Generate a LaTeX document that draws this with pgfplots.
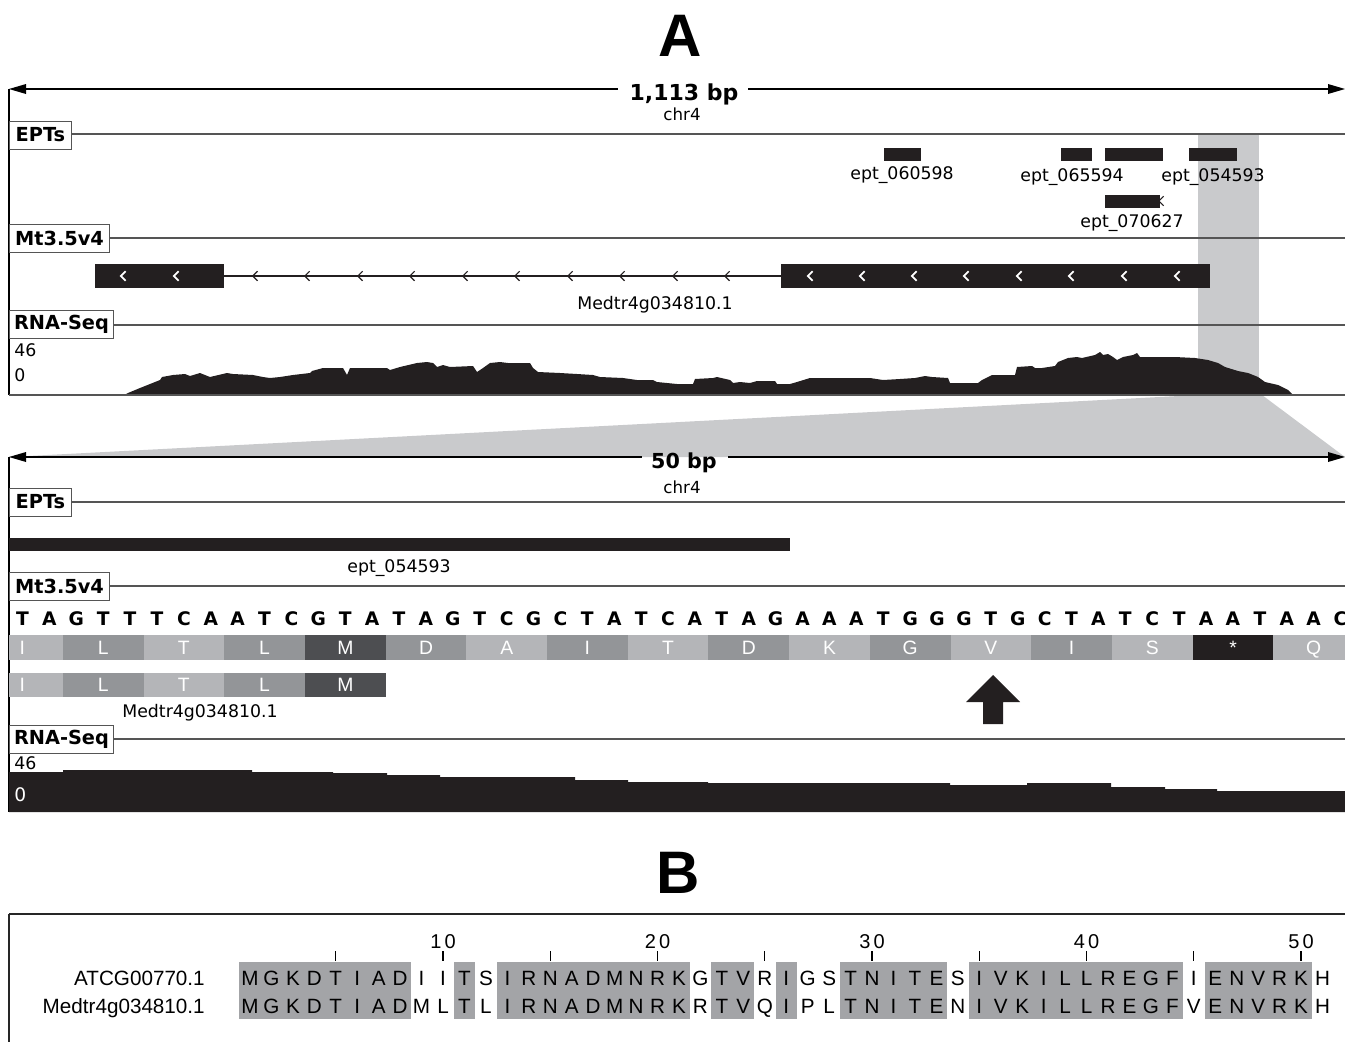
\documentclass[border=0pt]{standalone}
\usepackage{pgfplots}
\pgfplotsset{compat=1.18}
\usepackage{fontspec}
\setmainfont{DejaVu Sans}
\newfontfamily\lib{Liberation Sans}
\definecolor{lgray}{HTML}{B4B5B8}
\definecolor{mgray}{HTML}{939598}
\definecolor{dgray}{HTML}{4D4E51}
\definecolor{blk}{HTML}{231F20}
\definecolor{hl}{HTML}{C9CACC}
\definecolor{aln}{HTML}{A3A4A7}
\definecolor{trk}{HTML}{555555}
\pgfdeclareplotmark{chev}{%
 \pgfpathmoveto{\pgfqpoint{0.55\pgfplotmarksize}{\pgfplotmarksize}}%
 \pgfpathlineto{\pgfqpoint{-0.45\pgfplotmarksize}{0pt}}%
 \pgfpathlineto{\pgfqpoint{0.55\pgfplotmarksize}{-\pgfplotmarksize}}%
 \pgfusepathqstroke}
\newcommand{\rect}[5]{\addplot[fill=#5,draw=none] coordinates {(#1,#3) (#2,#3) (#2,#4) (#1,#4)} --cycle;}
\newcommand{\fs}[1]{\fontsize{#1}{#1}\selectfont}
\begin{document}
\begin{tikzpicture}
\begin{axis}[scale only axis, width=1008.75pt, height=781.5pt,
  xmin=0, xmax=1345, ymin=0, ymax=1042, y dir=reverse, hide axis, clip=false]
% ---------- Panel A, upper view ----------
\rect{1198}{1259}{134}{395}{hl}
\addplot[fill=hl,draw=none] coordinates {(9,457) (1198,395) (1262,395) (1345,457)} --cycle;
% scale arrow
\addplot[black, line width=1.1pt] coordinates {(20,89) (618,89)};
\addplot[black, line width=1.1pt] coordinates {(748,89) (1335,89)};
\addplot[fill=black,draw=none] coordinates {(9,89) (26,84) (26,94)} --cycle;
\addplot[fill=black,draw=none] coordinates {(1345,89) (1328,84) (1328,94)} --cycle;
\addplot[black, line width=1.1pt] coordinates {(9,89) (9,395)};
% track lines
\addplot[trk, line width=0.9pt] coordinates {(9,134) (1345,134)};
\addplot[trk, line width=0.9pt] coordinates {(9,238) (1345,238)};
\addplot[trk, line width=0.9pt] coordinates {(9,325) (1345,325)};
% EPT features
\rect{884}{921}{148}{161}{blk}
\rect{1061}{1092}{148}{161}{blk}
\rect{1105}{1163}{148}{161}{blk}
\rect{1189}{1237}{148}{161}{blk}
\rect{1105}{1160}{195}{208}{blk}
% gene model
\addplot[blk, line width=1pt] coordinates {(224,276) (781,276)};
\rect{95}{224}{264}{288}{blk}
\rect{781}{1210}{264}{288}{blk}
\addplot[only marks, mark=chev, mark size=3.6pt, white, line width=1.4pt]
  coordinates {(123,276) (176,276) (810,276) (862,276) (914,276) (966,276) (1019,276) (1071,276) (1124,276) (1177,276)};
\addplot[only marks, mark=chev, mark size=3.6pt, blk, line width=0.9pt]
  coordinates {(255,276) (307,276) (360,276) (412,276) (465,276) (517,276) (570,276) (622,276) (675,276) (727,276) (1161,201)};
% RNA-Seq coverage (upper)
\addplot[fill=blk, draw=none] coordinates {
(124,395) (128,393) (140,388) (150,384) (160,380) (162,377) (173,375) (185,374) (190,376) (200,373) (210,377) (227,373)
(233,374) (253,375) (263,377) (270,378) (280,377) (293,375) (310,373) (312,371) (323,368) (343,368)
(347,375) (350,368) (387,368) (390,370) (400,367) (417,363) (427,362) (433,363) (437,367) (443,365)
(450,367) (473,366) (477,372) (483,368) (490,363) (500,362) (508,363) (530,363) (533,368) (538,372)
(560,373) (577,374) (593,375) (600,377) (623,378) (637,380) (653,380) (657,382) (677,384) (693,384)
(695,379) (713,378) (717,377) (730,380) (733,383) (740,382) (750,383) (757,381) (775,381) (777,384)
(790,384) (797,382) (810,378) (827,378) (843,378) (870,378) (883,380) (900,379) (915,378) (925,376)
(932,377) (948,378) (950,383) (978,383) (982,380) (992,375) (1015,375) (1017,367) (1032,366) (1035,368)
(1042,368) (1055,366) (1058,362) (1068,358) (1077,357) (1082,358) (1095,355) (1100,352) (1103,355) (1108,354)
(1113,357) (1117,360) (1123,357) (1133,355) (1137,353) (1140,357) (1158,357) (1175,357) (1195,358) (1208,360)
(1218,363) (1225,367) (1238,371) (1248,373) (1258,377) (1265,382) (1278,385) (1288,390) (1293,395)} --cycle;
\addplot[trk, line width=1.1pt] coordinates {(9,395) (1345,395)};
% ---------- Panel A, lower (50 bp) view ----------
\addplot[black, line width=1.1pt] coordinates {(20,457) (642,457)};
\addplot[black, line width=1.1pt] coordinates {(728,457) (1335,457)};
\addplot[fill=black,draw=none] coordinates {(9,457) (26,452) (26,462)} --cycle;
\addplot[fill=black,draw=none] coordinates {(1345,457) (1328,452) (1328,462)} --cycle;
\addplot[black, line width=1.1pt] coordinates {(9,457) (9,812)};
\addplot[trk, line width=0.9pt] coordinates {(9,502) (1345,502)};
\addplot[trk, line width=0.9pt] coordinates {(9,586) (1345,586)};
\addplot[trk, line width=0.9pt] coordinates {(9,739) (1345,739)};
\rect{9}{790}{538}{551}{blk}
% translation frame
\rect{9}{62.8}{635}{660}{lgray}
\rect{62.8}{143.5}{635}{660}{mgray}
\rect{143.5}{224.2}{635}{660}{lgray}
\rect{224.2}{304.9}{635}{660}{mgray}
\rect{304.9}{385.6}{635}{660}{dgray}
\rect{385.6}{466.3}{635}{660}{mgray}
\rect{466.3}{547.0}{635}{660}{lgray}
\rect{547.0}{627.7}{635}{660}{mgray}
\rect{627.7}{708.4}{635}{660}{lgray}
\rect{708.4}{789.1}{635}{660}{mgray}
\rect{789.1}{869.8}{635}{660}{lgray}
\rect{869.8}{950.5}{635}{660}{mgray}
\rect{950.5}{1031.2}{635}{660}{lgray}
\rect{1031.2}{1111.9}{635}{660}{mgray}
\rect{1111.9}{1192.6}{635}{660}{lgray}
\rect{1192.6}{1273.3}{635}{660}{blk}
\rect{1273.3}{1345}{635}{660}{lgray}
% gene model translation
\rect{9}{62.8}{673}{697}{lgray}
\rect{62.8}{143.5}{673}{697}{mgray}
\rect{143.5}{224.2}{673}{697}{lgray}
\rect{224.2}{304.9}{673}{697}{mgray}
\rect{304.9}{385.6}{673}{697}{dgray}
% arrow
\addplot[fill=blk, draw=none] coordinates {(993,675) (1020,702) (1003,702) (1003,724) (983,724) (983,702) (966,702)} --cycle;
% RNA-Seq coverage (lower)
\addplot[fill=blk, draw=none] coordinates {
(9,812) (9,772) (63,772) (63,770) (252,770) (252,772) (333,772) (333,773) (387,773) (387,775)
(440,775) (440,777) (575,777) (575,780) (628,780) (628,782) (708,782) (708,783) (950,783) (950,785)
(1027,785) (1027,783) (1111,783) (1111,787) (1165,787) (1165,789) (1217,789) (1217,791) (1345,791) (1345,812)} --cycle;
% ---------- Panel B ----------
\addplot[black!85, line width=2.2pt] coordinates {(9,914) (1345,914)};
\addplot[black!85, line width=1.5pt] coordinates {(9,914) (9,1042)};
\rect{239.3}{410.9}{962}{1019}{aln}
\rect{453.8}{475.2}{962}{1019}{aln}
\rect{496.7}{689.7}{962}{1019}{aln}
\rect{711.2}{754.1}{962}{1019}{aln}
\rect{775.5}{797.0}{962}{1019}{aln}
\rect{839.9}{947.1}{962}{1019}{aln}
\rect{968.6}{1183.1}{962}{1019}{aln}
\rect{1204.5}{1311.8}{962}{1019}{aln}
\addplot[only marks, mark=|, mark size=3.6pt, black, line width=0.9pt]
  coordinates {(335.8,956) (443.05,956) (550.3,956) (657.55,956) (764.8,956) (872.05,956) (979.3,956) (1086.55,956) (1193.8,956) (1301.05,956)};
\end{axis}
\begin{scope}[x=0.75pt, y=-0.75pt, shift={(current axis.north west)}]
% panel titles
\node[anchor=base, inner sep=0, font={\lib\bfseries\fs{45}}] at (680,57) {A};
\node[anchor=base, inner sep=0, font={\lib\bfseries\fs{45}}] at (678,893) {B};
% upper view texts
\node[anchor=base, inner sep=0, font={\bfseries\fs{16.5}}] at (684,101) {1,113 bp};
\node[anchor=base, inner sep=0, font=\fs{12.5}] at (682,121) {chr4};
\tikzset{trklab/.style={draw=trk, fill=white, line width=0.7pt, anchor=west, minimum height=21pt, inner sep=0pt, font={\bfseries\fs{14.5}}}}
\node[trklab, minimum width=46.5pt] at (9,135) {EPTs};
\node[trklab, minimum width=75pt] at (9,238) {Mt3.5v4};
\node[trklab, minimum width=78pt] at (9,324) {RNA-Seq};
\tikzset{lab/.style={anchor=base, inner sep=0, font=\fs{13}}}
\node[lab] at (902,180) {ept\_060598};
\node[lab] at (1072,182) {ept\_065594};
\node[lab] at (1213,182) {ept\_054593};
\node[lab] at (1132,228) {ept\_070627};
\node[lab] at (655,310) {Medtr4g034810.1};
\node[lab, anchor=base west] at (14,357) {46};
\node[lab, anchor=base west] at (14,382) {0};
% lower view texts
\node[anchor=base, inner sep=0, font={\bfseries\fs{15.5}}] at (684,469) {50 bp};
\node[anchor=base, inner sep=0, font=\fs{12.5}] at (682,494) {chr4};
\node[trklab, minimum width=46.5pt] at (9,502) {EPTs};
\node[trklab, minimum width=75pt] at (9,586) {Mt3.5v4};
\node[trklab, minimum width=78pt] at (9,739) {RNA-Seq};
\node[lab] at (399,573) {ept\_054593};
\node[lab] at (200,718) {Medtr4g034810.1};
\node[lab, anchor=base west] at (14,770) {46};
\node[lab, anchor=base west, text=white, font=\fs{14}] at (14,802) {0};
\foreach \c [count=\i from 0] in {T,A,G,T,T,T,C,A,A,T,C,G,T,A,T,A,G,T,C,G,C,T,A,T,C,A,T,A,G,A,A,A,T,G,G,G,T,G,C,T,A,T,C,T,A,A,T,A,A,C}
  \node[anchor=base, inner sep=0, font={\bfseries\fs{14}}] at ({9+26.9*(\i+0.5)},626) {\c};
\foreach \x/\c in {22.4/I,103.2/L,183.9/T,264.6/L,345.3/M,426/D,506.7/A,587.4/I,668.1/T,748.8/D,829.5/K,910.2/G,990.9/V,1071.6/I,1152.3/S,1233/*,1313.7/Q}
  \node[anchor=base, inner sep=0, text=white, font={\lib\fs{14.5}}] at (\x,655) {\c};
\foreach \x/\c in {22.4/I,103.2/L,183.9/T,264.6/L,345.3/M}
  \node[anchor=base, inner sep=0, text=white, font={\lib\fs{14.5}}] at (\x,692) {\c};
% panel B texts
\node[anchor=base east, inner sep=0, font={\lib\fs{15.5}}] at (205,985) {ATCG00770.1};
\node[anchor=base east, inner sep=0, font={\lib\fs{15.5}}] at (205,1013) {Medtr4g034810.1};
\foreach \c [count=\i from 0] in {M,G,K,D,T,I,A,D,I,I,T,S,I,R,N,A,D,M,N,R,K,G,T,V,R,I,G,S,T,N,I,T,E,S,I,V,K,I,L,L,R,E,G,F,I,E,N,V,R,K,H}
  \node[anchor=base, inner sep=0, font={\lib\fs{15.5}}] at ({250+21.45*\i},985) {\c};
\foreach \c [count=\i from 0] in {M,G,K,D,T,I,A,D,M,L,T,L,I,R,N,A,D,M,N,R,K,R,T,V,Q,I,P,L,T,N,I,T,E,N,I,V,K,I,L,L,R,E,G,F,V,E,N,V,R,K,H}
  \node[anchor=base, inner sep=0, font={\lib\fs{15.5}}] at ({250+21.45*\i},1013) {\c};
\foreach \x/\a/\b in {443.05/1/0,657.55/2/0,872.05/3/0,1086.55/4/0,1301.05/5/0}
  \node[anchor=base, inner sep=0, font={\lib\fs{15}}] at (\x,948) {\a\kern2.5pt\b};
\end{scope}
\pgfresetboundingbox
\useasboundingbox (current axis.south west) rectangle (current axis.north east);
\end{tikzpicture}
\end{document}
